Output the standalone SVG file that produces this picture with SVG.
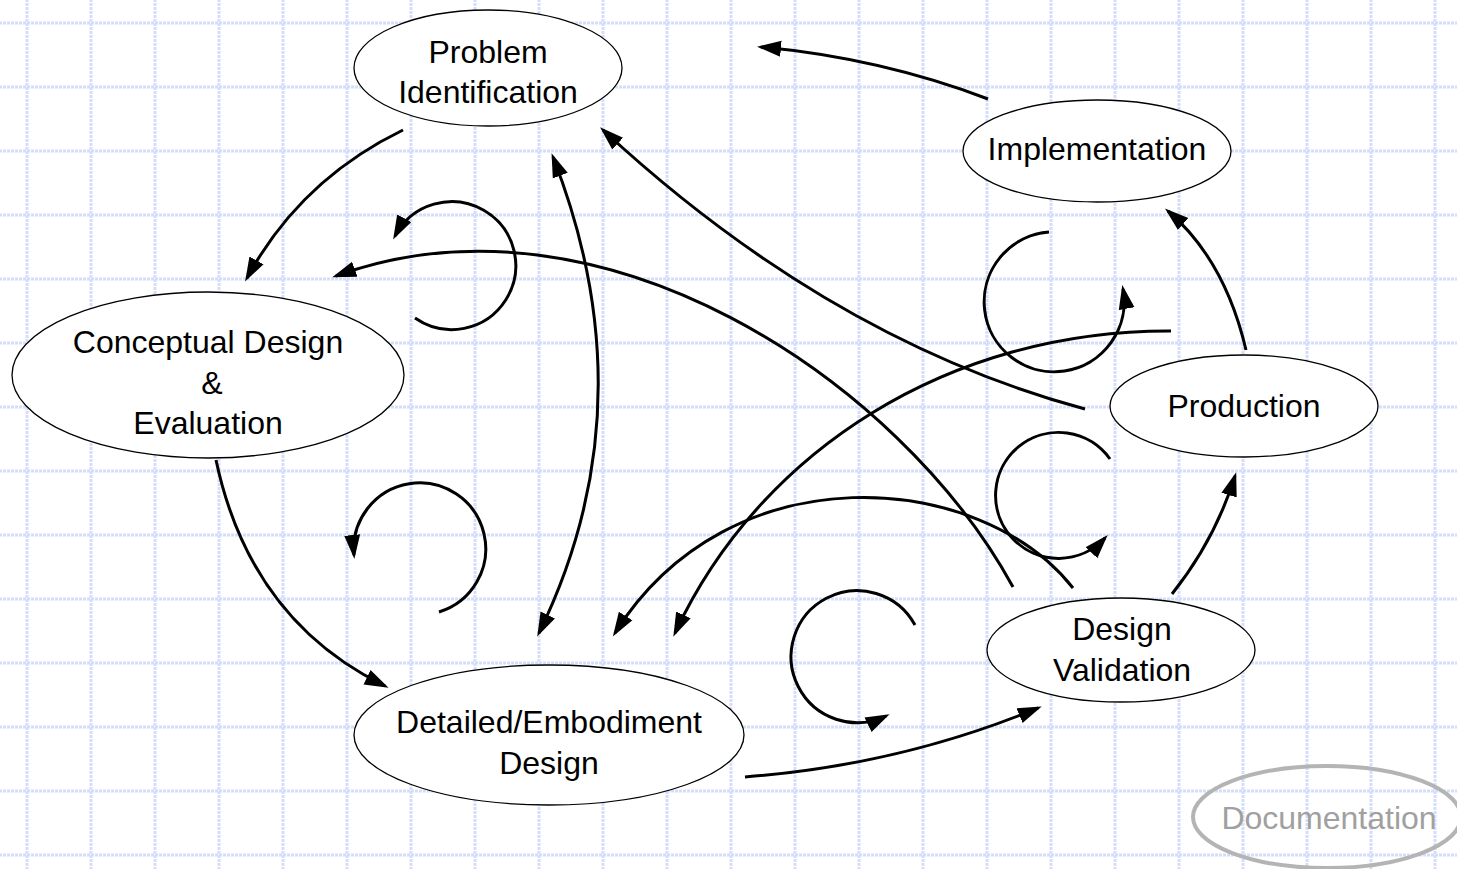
<svg xmlns="http://www.w3.org/2000/svg" width="1457" height="869" viewBox="0 0 1457 869">
  <defs>
    <pattern id="grid" patternUnits="userSpaceOnUse" x="-5" y="-9" width="64" height="64">
      <line x1="32" y1="0" x2="32" y2="64" class="gl"/>
      <line x1="0" y1="32" x2="64" y2="32" class="gl"/>
    </pattern>
    <marker id="arr" markerUnits="userSpaceOnUse" markerWidth="26" markerHeight="20" viewBox="0 0 26 20" refX="20" refY="10" orient="auto-start-reverse">
      <path d="M0,2 L24,10 L0,18 Z" fill="#000"/>
    </marker>
    <style>
      .gl { stroke: #d4def9; stroke-width: 3; stroke-dasharray: 3 1; }
      .node { fill: #fff; stroke: #000; stroke-width: 1.3; }
      .label { font-family: "Liberation Sans", Arial, sans-serif; font-size: 32px; fill: #000; text-anchor: middle; }
      .edge { fill: none; stroke: #000; stroke-width: 3; }
      .arrow { marker-end: url(#arr); }
      .doc { fill: none; stroke: #b4b4b4; stroke-width: 4; }
      .doclabel { font-family: "Liberation Sans", Arial, sans-serif; font-size: 32px; fill: #a0a0a0; text-anchor: middle; }
    </style>
  </defs>

  <rect width="1457" height="869" fill="#fff"/>
  <rect width="1457" height="869" fill="url(#grid)"/>

  <!-- connectors -->
  <g id="connectors">
    <!-- Problem Identification -> Conceptual Design -->
    <path class="edge arrow" d="M403,130 Q300,180 247,278"/>
    <!-- Implementation -> back to top -->
    <path class="edge arrow" d="M988,99 Q880,58 761,47"/>
    <!-- Production -> Problem Identification -->
    <path class="edge arrow" d="M1085,409 Q830,340 603,130"/>
    <!-- Production -> Detailed Design -->
    <path class="edge arrow" d="M1171,331 C950,330 760,450 675,633"/>
    <!-- Design Validation -> Conceptual Design -->
    <path class="edge arrow" d="M1013,587 C900,380 600,180 336,276"/>
    <!-- Design Validation -> Detailed Design -->
    <path class="edge arrow" d="M1073,588 C980,470 730,450 615,633"/>
    <!-- Problem Identification <-> Detailed Design -->
    <path class="edge arrow" marker-start="url(#arr)" d="M553,157 Q650,405 539,633"/>
    <!-- Conceptual Design -> Detailed Design -->
    <path class="edge arrow" d="M216,460 Q250,620 385,686"/>
    <!-- Detailed Design -> Design Validation -->
    <path class="edge arrow" d="M745,777 Q900,765 1038,708"/>
    <!-- Design Validation -> Production -->
    <path class="edge arrow" d="M1172,594 Q1215,540 1235,476"/>
    <!-- Production -> Implementation -->
    <path class="edge arrow" d="M1246,350 Q1225,260 1168,211"/>

    <!-- iteration loops -->
    <path class="edge arrow" d="M415,318 A64,64 0 1 0 395,236"/>
    <path class="edge arrow" d="M439,612 A66,66 0 1 0 354,555"/>
    <path class="edge arrow" d="M915,625 A66,66 0 1 0 886,716"/>
    <path class="edge arrow" d="M1110,459 A63,63 0 1 0 1105,538"/>
    <path class="edge arrow" d="M1049,232 A70,70 0 1 0 1123,289"/>
  </g>

  <!-- nodes -->
  <g id="problem-identification">
    <ellipse class="node" cx="488" cy="68" rx="134" ry="58"/>
    <text class="label" x="488" y="63">Problem</text>
    <text class="label" x="488" y="103">Identification</text>
  </g>
  <g id="implementation">
    <ellipse class="node" cx="1097" cy="151" rx="134" ry="51"/>
    <text class="label" x="1097" y="160">Implementation</text>
  </g>
  <g id="conceptual-design">
    <ellipse class="node" cx="208" cy="375" rx="196" ry="83"/>
    <text class="label" x="208" y="353">Conceptual Design</text>
    <text class="label" x="212" y="394">&amp;</text>
    <text class="label" x="208" y="434">Evaluation</text>
  </g>
  <g id="production">
    <ellipse class="node" cx="1244" cy="406" rx="134" ry="51"/>
    <text class="label" x="1244" y="417">Production</text>
  </g>
  <g id="design-validation">
    <ellipse class="node" cx="1121" cy="650" rx="134" ry="52"/>
    <text class="label" x="1122" y="640">Design</text>
    <text class="label" x="1122" y="681">Validation</text>
  </g>
  <g id="detailed-design">
    <ellipse class="node" cx="549" cy="735" rx="195" ry="70"/>
    <text class="label" x="549" y="733">Detailed/Embodiment</text>
    <text class="label" x="549" y="774">Design</text>
  </g>
  <g id="documentation">
    <ellipse class="doc" cx="1327" cy="817" rx="134" ry="51"/>
    <text class="doclabel" x="1329" y="829">Documentation</text>
  </g>
</svg>
